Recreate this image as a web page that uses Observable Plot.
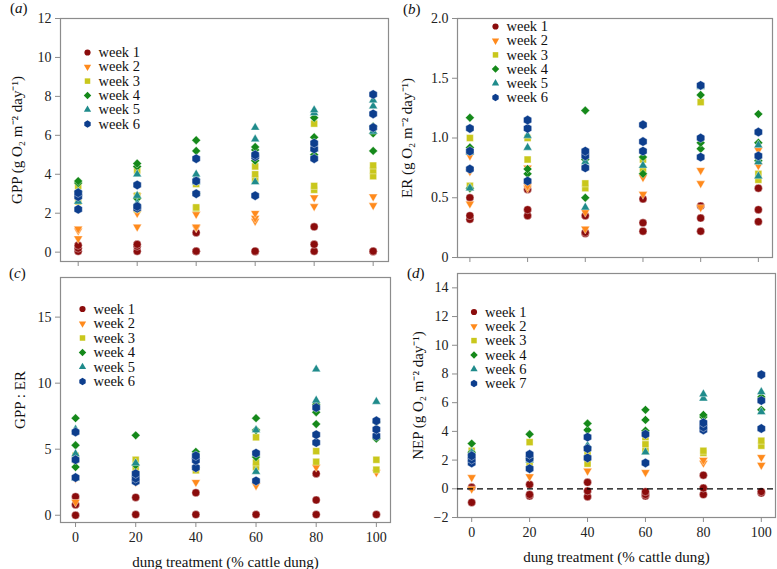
<!DOCTYPE html>
<html><head><meta charset="utf-8">
<script src="https://cdn.jsdelivr.net/npm/d3@7"></script>
<script src="https://cdn.jsdelivr.net/npm/@observablehq/plot@0.6"></script>
<style>
body{margin:0;background:#fff;}
#wrap{position:relative;width:777px;height:569px;overflow:hidden;font-family:"Liberation Serif","Times New Roman",serif;}
.panel{position:absolute;}
.panel svg, .panel svg text{font-family:"Liberation Serif","Times New Roman",serif !important;}
.plab{position:absolute;font-size:15px;line-height:15px;color:#111;font-family:"Liberation Serif","Times New Roman",serif;}
</style></head><body><div id="wrap"></div>
<script>
const treatments = [0, 20, 40, 60, 80, 100];
const weekLabels = ["week 1", "week 2", "week 3", "week 4", "week 5", "week 6"];
const weekLabelsNEP = ["week 1", "week 2", "week 3", "week 4", "week 6", "week 7"];
const weekColors = ["#8b0c0c", "#ff8a1c", "#c9c71c", "#15891a", "#1f8b8b", "#0d3e8d"];

// (a) GPP, one inner list per treatment
const gppW1 = [[0.05,0.2,0.35],[0.05,0.3,0.4],[0.05,0.05,1.0],[0.03,0.05],[0.05,0.4,1.3],[0.03,0.05]];
const gppW2 = [[0.7,1.1,1.2],[1.3,2.0,2.9],[1.25,1.3,1.95],[1.6,1.75,2.0],[2.35,2.8],[2.4,2.85]];
const gppW3 = [[2.6,3.4],[2.2,2.9,4.2],[2.25,2.3,3.5],[3.75,4.0,4.4],[3.2,3.4,6.6],[3.9,4.2,4.45]];
const gppW4 = [[3.1,3.55,3.65],[2.75,4.4,4.55],[3.0,5.2,5.75],[4.7,5.25,5.4],[5.0,5.9,6.9],[5.2,6.1,6.45]];
const gppW5 = [[2.6,3.0],[2.5,2.9,4.0],[3.6,3.85,4.0],[3.6,5.8,6.4],[5.3,7.15,7.3],[6.2,7.5,7.8]];
const gppW6 = [[2.2,2.85,3.05],[2.25,2.35,3.45],[3.0,3.65,4.8],[2.9,4.9,5.0],[4.8,5.3,5.6],[6.4,7.1,8.1]];

// (b) ER
const erW1 = [[0.32,0.35,0.5],[0.35,0.4,0.57],[0.2,0.21,0.35],[0.22,0.29,0.49],[0.22,0.33,0.43],[0.3,0.4,0.58]];
const erW2 = [[0.45,0.72,0.85],[0.58,0.6,0.75],[0.24,0.38],[0.53,0.67],[0.42,0.62,0.73],[0.77,0.9]];
const erW3 = [[0.6,1.0],[0.82,1.0],[0.58,0.62],[0.74,0.82],[1.3],[0.65,0.7]];
const erW4 = [[0.58,0.92,1.17],[0.7,0.74],[0.5,0.82,1.23],[0.7,0.84],[0.91,0.96,1.36],[0.81,0.96,1.2]];
const erW5 = [[0.58,0.88],[0.92,1.02],[0.42,0.8],[0.77],[1.43],[0.68,0.8,0.94]];
const erW6 = [[0.74,0.89,1.08],[0.64,1.08,1.15],[0.75,0.85,0.89],[0.89,0.97,1.11],[0.84,1.0,1.44],[0.85,1.05]];

// (c) GPP : ER
const ratioW1 = [[0,0.8,1.4],[0.05,1.35],[0.05,1.7],[0.05],[0.05,1.15,3.15],[0.05]];
const ratioW2 = [[1.0,2.8],[2.5],[2.5],[2.25],[3.65],[3.25]];
const ratioW3 = [[4.2,4.5],[3.5,4.2],[3.4],[3.65,4.0,5.9],[4.05,4.85],[3.45,4.2]];
const ratioW4 = [[3.65,5.3,7.35],[3.8,6.05],[4.8],[4.4,6.45,7.35],[6.9,7.8,8.4],[5.8,7.05]];
const ratioW5 = [[2.8,4.65,6.5],[3.1,3.95],[3.8,4.45],[3.3,6.45],[8.7,11.05],[8.6]];
const ratioW6 = [[2.85,4.2,6.3],[2.55,2.8,3.15],[3.6,4.15,4.5],[2.6,4.7],[5.5,6.1,8.15],[6.0,6.5,7.15]];

// (d) NEP
const nepW1 = [[-0.95,0.1],[-0.5,-0.4,0.3],[-0.55,-0.15,0.45],[-0.5,-0.4,-0.2],[-0.4,0.05,0.95],[-0.3,-0.2]];
const nepW2 = [[0.0,0.8],[0.85],[1.25],[1.15],[1.8,2.0],[1.65,2.2]];
const nepW3 = [[2.65],[1.8,3.25],[1.75,2.55],[2.65,3.1,3.6],[2.5,2.65],[3.0,3.35]];
const nepW4 = [[2.55,3.15],[2.1,3.8],[2.9,4.1,4.55],[4.05,4.8,5.5],[5.0,5.15],[5.5,6.4]];
const nepW6 = [[2.5],[2.0],[3.0],[2.55],[6.3,6.6],[5.35,6.75]];
const nepW7 = [[1.8,2.05,2.3],[1.4,2.1,2.4],[2.15,2.8,3.6],[1.8,3.8],[4.1,4.3,4.6],[4.2,6.15,7.95]];

const yTicksGPP = [0,2,4,6,8,10,12];
const yTicksER = [0,0.5,1.0,1.5,2.0];
const yTicksRatio = [0,5,10,15];
const yTicksNEP = [-2,0,2,4,6,8,10,12,14];

const triangleDown = {
  draw(context, size) {
    const y = -Math.sqrt(size / (Math.sqrt(3) * 3));
    context.moveTo(0, -y * 2);
    context.lineTo(-Math.sqrt(3) * y, y);
    context.lineTo(Math.sqrt(3) * y, y);
    context.closePath();
  }
};
const weekSymbols = ["circle", triangleDown, "square", "diamond2", "triangle", "hexagon"];
const dataR = [4, 3.3, 3.9, 4, 3.3, 4.1];
const legR = [3.1, 2.7, 3.1, 3.4, 2.7, 3.2];

const serif = `"Liberation Serif", "Times New Roman", serif`;
const frameColor = "#8c8c8c";

function toRows(series) {
  return series.flatMap((vals, i) => vals.map(v => ({x: treatments[i], y: v})));
}

function panel(o) {
  const marks = [
    Plot.frame({stroke: frameColor, strokeWidth: 1.2}),
    Plot.axisY({ticks: o.yTicks, tickSize: 5, tickPadding: 4, tickFormat: o.yFmt, label: null, stroke: frameColor, fill: "#222", fontSize: 14, fontFamily: serif}),
    Plot.axisX({ticks: treatments, tickSize: 5, tickPadding: 5, tickFormat: o.xLabels ? (d => String(d)) : (() => ""), label: null, stroke: frameColor, fill: "#222", fontSize: 14, fontFamily: serif})
  ];
  o.series.forEach((s, k) => {
    marks.push(Plot.dot(toRows(s), {x: "x", y: "y", symbol: weekSymbols[k], fill: weekColors[k], r: dataR[k], stroke: "white", strokeWidth: 0.4}));
  });
  if (o.zero) marks.push(Plot.ruleY([0], {stroke: "#000", strokeWidth: 1.3, strokeDasharray: "6,4"}));
  o.legend.forEach((lab, k) => {
    const dy = o.legDy + k * o.legStep;
    marks.push(Plot.dot([lab], {frameAnchor: "top-left", dx: o.legDx, dy, symbol: weekSymbols[k], fill: weekColors[k], r: legR[k]}));
    marks.push(Plot.text([lab], {frameAnchor: "top-left", dx: o.legDx + 11, dy, text: d => d, textAnchor: "start", lineAnchor: "middle", fontSize: 14.5, fontFamily: serif, fill: "#111"}));
  });
  marks.push(Plot.text([o.ylabel], {frameAnchor: "left", dx: o.ylabDx, rotate: -90, text: d => d, textAnchor: "middle", lineAnchor: "middle", fontSize: 15, fontFamily: serif, fill: "#111"}));
  if (o.xLabels) marks.push(Plot.text(["dung treatment (% cattle dung)"], {frameAnchor: "bottom", dy: 40, text: d => d, lineAnchor: "middle", fontSize: 15, fontFamily: serif, fill: "#111"}));
  const svg = Plot.plot({
    width: o.w, height: o.h,
    marginLeft: o.m[0], marginRight: o.m[1], marginTop: o.m[2], marginBottom: o.m[3],
    x: {domain: o.xDomain},
    y: {domain: o.yDomain},
    style: {fontFamily: serif, fontSize: "14px", background: "transparent", overflow: "visible"},
    marks
  });
  svg.setAttribute("font-family", serif);
  const div = document.createElement("div");
  div.className = "panel";
  div.style.left = o.left + "px";
  div.style.top = o.top + "px";
  div.appendChild(svg);
  document.getElementById("wrap").appendChild(div);
}

const oneDec = d => d === 0 ? "0" : d.toFixed(1);

panel({left: 0, top: 0, w: 390, h: 270, m: [60, 2, 18, 9], xDomain: [-6, 105.2], yDomain: [-0.48, 12],
  yTicks: yTicksGPP, series: [gppW1, gppW2, gppW3, gppW4, gppW5, gppW6], legend: weekLabels,
  legDx: 27, legDy: 34, legStep: 14.3, ylabel: "GPP (g O\u2082 m\u207B\u00B2 day\u207B\u00B9)", ylabDx: -43, xLabels: false});
panel({left: 390, top: 0, w: 387, h: 270, m: [67, 5, 18, 13], xDomain: [-4.3, 104.9], yDomain: [0, 2],
  yTicks: yTicksER, yFmt: oneDec, series: [erW1, erW2, erW3, erW4, erW5, erW6], legend: weekLabels,
  legDx: 38, legDy: 8, legStep: 14.2, ylabel: "ER (g O\u2082 m\u207B\u00B2 day\u207B\u00B9)", ylabDx: -50, xLabels: false});
panel({left: 0, top: 270, w: 391, h: 299, m: [60, 1, 7, 47], xDomain: [-5, 104.7], yDomain: [-0.55, 18],
  yTicks: yTicksRatio, series: [ratioW1, ratioW2, ratioW3, ratioW4, ratioW5, ratioW6], legend: weekLabels,
  legDx: 22, legDy: 31.5, legStep: 14.5, ylabel: "GPP : ER", ylabDx: -40, xLabels: true});
panel({left: 391, top: 270, w: 386, h: 299, m: [66, 2, 3, 52], xDomain: [-4.9, 104.9], yDomain: [-2, 15],
  yTicks: yTicksNEP, series: [nepW1, nepW2, nepW3, nepW4, nepW6, nepW7], legend: weekLabelsNEP,
  legDx: 16.5, legDy: 38.5, legStep: 14.3, ylabel: "NEP (g O\u2082 m\u207B\u00B2 day\u207B\u00B9)", ylabDx: -39, xLabels: true, zero: true});

const labs = [["a", 10, 1], ["b", 403, 2], ["c", 9, 266], ["d", 407, 266]];
for (const [t, x, y] of labs) {
  const d = document.createElement("div");
  d.className = "plab";
  d.style.left = x + "px"; d.style.top = y + "px";
  d.innerHTML = "(<i>" + t + "</i>)";
  document.getElementById("wrap").appendChild(d);
}
</script>
</body></html>
